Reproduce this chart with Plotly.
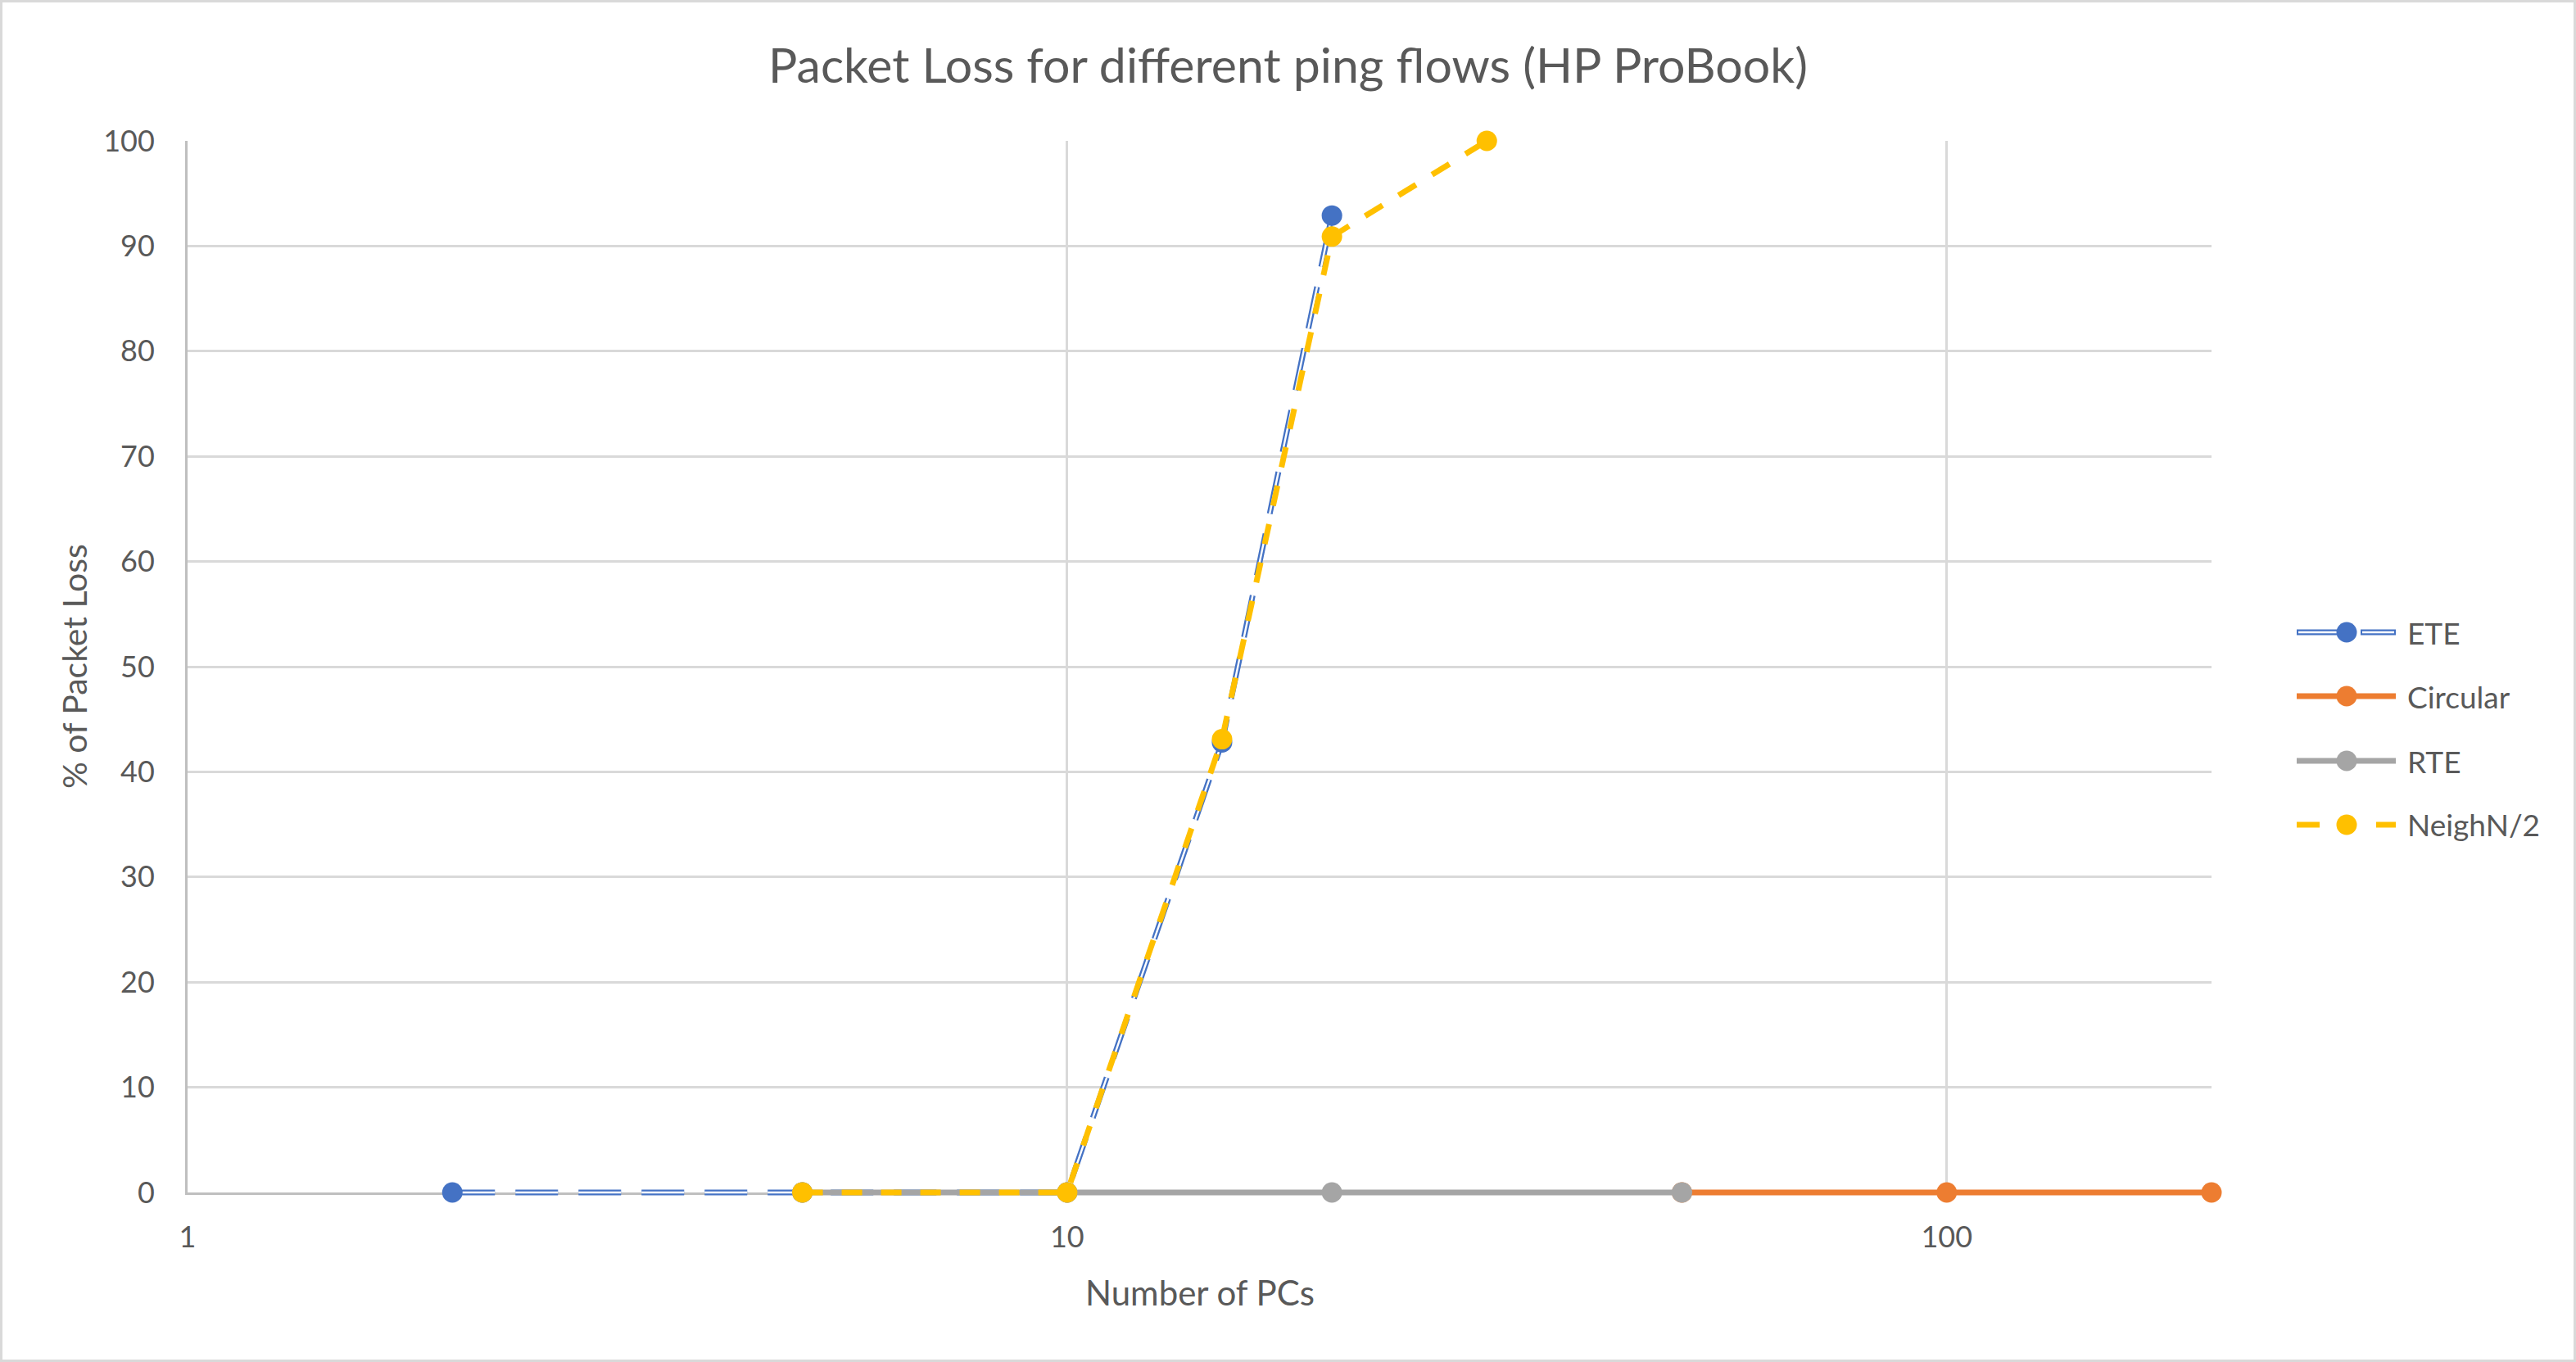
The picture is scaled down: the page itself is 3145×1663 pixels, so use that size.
import math
import plotly.graph_objects as go

# ---------------- data ----------------
ete_x = [2, 5, 10, 15, 20]
ete_y = [0, 0, 0, 42.8, 92.9]
circ_x = [50, 100, 200]
circ_y = [0, 0, 0]
rte_x = [5, 10, 20, 50]
rte_y = [0, 0, 0, 0]
neigh_x = [5, 10, 15, 20, 30]
neigh_y = [0, 0, 43.1, 90.9, 100]

series_names = ["ETE", "Circular", "RTE", "NeighN/2"]
colors = ["#4472C4", "#ED7D31", "#A5A5A5", "#FFC000"]
x_tick_vals = [1, 10, 100]
x_tick_text = ["1", "10", "100"]
y_tick_vals = [0, 10, 20, 30, 40, 50, 60, 70, 80, 90, 100]
x_max = 200
y_min, y_max = 0, 100

title_text = "Packet Loss for different ping flows (HP ProBook)"
x_title = "Number of PCs"
y_title = "% of Packet Loss"

# ---------------- layout constants ----------------
W, H = 3145, 1663
PLOT_L, PLOT_R, PLOT_T, PLOT_B = 229, 2700, 172, 1456   # visible plot box (px)
PAD = 20                                                 # extra room so lines on edges are not clipped
ML, MR = PLOT_L, W - PLOT_R
MT, MB = PLOT_T - PAD, H - PLOT_B - PAD
PW, PH = W - ML - MR, H - MT - MB
FONT = "Lato"
TXT = "#595959"
LW = 7
MS = 25
ETE_DASH = "52px,25px"
NEIGH_DASH = "25px,23px"


def px_x(p):
    return (p - ML) / PW


def px_y(p):
    return (H - MB - p) / PH


# data axes (x2/y2) cover the padded area, with the same value->pixel mapping as the main axes
units_per_px = (y_max - y_min) / (PLOT_B - PLOT_T)
y2_range = [y_min - PAD * units_per_px, y_max + PAD * units_per_px]
main_domain = [PAD / PH, 1 - PAD / PH]

fig = go.Figure()

# invisible trace on the main (grid/tick) axes so that subplot is drawn
fig.add_trace(go.Scatter(x=ete_x, y=ete_y, mode="markers", marker=dict(opacity=0),
                         xaxis="x", yaxis="y", showlegend=False, hoverinfo="skip"))

common = dict(xaxis="x2", yaxis="y2", cliponaxis=False, showlegend=False)

# ETE: double (outlined) dashed line = blue line + white core, then markers
fig.add_trace(go.Scatter(x=ete_x, y=ete_y, mode="lines", name=series_names[0],
                         line=dict(color=colors[0], width=LW, dash=ETE_DASH),
                         hoverinfo="skip", **common))
fig.add_trace(go.Scatter(x=ete_x, y=ete_y, mode="lines", name=series_names[0],
                         line=dict(color="white", width=2.4, dash=ETE_DASH),
                         hoverinfo="skip", **common))
fig.add_trace(go.Scatter(x=ete_x, y=ete_y, mode="markers", name=series_names[0],
                         marker=dict(color=colors[0], size=MS, line=dict(width=0)), **common))
# Circular
fig.add_trace(go.Scatter(x=circ_x, y=circ_y, mode="lines+markers", name=series_names[1],
                         line=dict(color=colors[1], width=LW),
                         marker=dict(color=colors[1], size=MS, line=dict(width=0)), **common))
# RTE
fig.add_trace(go.Scatter(x=rte_x, y=rte_y, mode="lines+markers", name=series_names[2],
                         line=dict(color=colors[2], width=LW),
                         marker=dict(color=colors[2], size=MS, line=dict(width=0)), **common))
# NeighN/2
fig.add_trace(go.Scatter(x=neigh_x, y=neigh_y, mode="lines+markers", name=series_names[3],
                         line=dict(color=colors[3], width=LW, dash=NEIGH_DASH),
                         marker=dict(color=colors[3], size=MS, line=dict(width=0)), **common))

# ---------------- custom legend ----------------
shapes = []
annotations = []
leg_y = [772, 850, 929, 1007]
lx0, lx1, lmx, ltx = 2804, 2925, 2865, 2937
for i, name in enumerate(series_names):
    yc = px_y(leg_y[i])
    if i == 0:
        for a, b in [(lx0, lmx + 5), (lmx + 17, lx1)]:
            shapes.append(dict(type="line", xref="paper", yref="paper",
                               x0=px_x(a), x1=px_x(b), y0=yc, y1=yc,
                               line=dict(color=colors[0], width=LW), layer="above"))
            shapes.append(dict(type="line", xref="paper", yref="paper",
                               x0=px_x(a + 2), x1=px_x(b - 2), y0=yc, y1=yc,
                               line=dict(color="white", width=2.4), layer="above"))
    elif i == 3:
        for a, b in [(lx0, lx0 + 28), (lx1 - 24, lx1)]:
            shapes.append(dict(type="line", xref="paper", yref="paper",
                               x0=px_x(a), x1=px_x(b), y0=yc, y1=yc,
                               line=dict(color=colors[3], width=LW), layer="above"))
    else:
        shapes.append(dict(type="line", xref="paper", yref="paper",
                           x0=px_x(lx0), x1=px_x(lx1), y0=yc, y1=yc,
                           line=dict(color=colors[i], width=LW), layer="above"))
    shapes.append(dict(type="circle", xref="paper", yref="paper",
                       xsizemode="pixel", ysizemode="pixel",
                       xanchor=px_x(lmx), yanchor=yc,
                       x0=-MS / 2, x1=MS / 2, y0=-MS / 2, y1=MS / 2,
                       fillcolor=colors[i], line=dict(width=0), layer="above"))
    annotations.append(dict(text=name, xref="paper", yref="paper",
                            x=px_x(ltx), y=yc, xanchor="left", yanchor="middle",
                            showarrow=False, font=dict(family=FONT, size=37, color=TXT)))

# axis titles
annotations.append(dict(text=x_title, xref="paper", yref="paper", x=0.5, y=px_y(1578),
                        xanchor="center", yanchor="middle", showarrow=False,
                        font=dict(family=FONT, size=42, color=TXT)))
annotations.append(dict(text=y_title, xref="paper", yref="paper", x=px_x(90), y=px_y(814),
                        xanchor="center", yanchor="middle", showarrow=False, textangle=-90,
                        font=dict(family=FONT, size=41, color=TXT)))

# chart border
shapes.append(dict(type="rect", xref="paper", yref="paper",
                   x0=px_x(1.5), x1=px_x(W - 1.5), y0=px_y(H - 1.5), y1=px_y(1.5),
                   line=dict(color="#D9D9D9", width=3), layer="below"))

fig.update_layout(
    width=W, height=H,
    margin=dict(l=ML, r=MR, t=MT, b=MB),
    paper_bgcolor="white", plot_bgcolor="rgba(0,0,0,0)",
    showlegend=False,
    title=dict(text=title_text, x=0.5, xanchor="center", y=1 - 80 / H, yanchor="middle",
               font=dict(family=FONT, size=59, color=TXT)),
    font=dict(family=FONT, color=TXT),
    shapes=shapes,
    annotations=annotations,
    xaxis=dict(type="log", range=[0, math.log10(x_max)],
               tickvals=x_tick_vals, ticktext=x_tick_text,
               showgrid=True, gridcolor="#D9D9D9", gridwidth=2.5,
               showline=True, linecolor="#BFBFBF", linewidth=3,
               ticks="", ticklabelstandoff=21, anchor="y",
               tickfont=dict(family=FONT, size=36, color=TXT), zeroline=False),
    yaxis=dict(range=[y_min, y_max], tickvals=y_tick_vals, domain=main_domain,
               showgrid=True, gridcolor="#D9D9D9", gridwidth=2.5,
               showline=True, linecolor="#BFBFBF", linewidth=3,
               ticks="", ticklabelstandoff=30, anchor="x",
               tickfont=dict(family=FONT, size=36, color=TXT), zeroline=False),
    xaxis2=dict(type="log", range=[0, math.log10(x_max)], domain=[0, 1], anchor="y2",
                visible=False, showgrid=False, zeroline=False),
    yaxis2=dict(range=y2_range, domain=[0, 1], anchor="x2",
                visible=False, showgrid=False, zeroline=False),
)

fig.write_html("out.html")
